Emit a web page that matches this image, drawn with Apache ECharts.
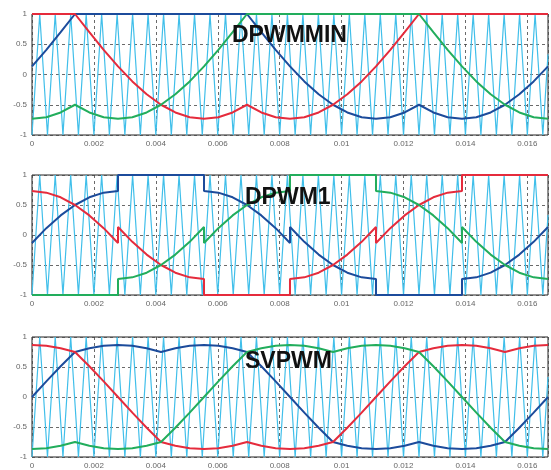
<!DOCTYPE html>
<html>
<head>
<meta charset="utf-8">
<script src="https://cdn.jsdelivr.net/npm/echarts@6/dist/echarts.min.js"></script>
<style>
html,body{margin:0;padding:0;background:#fff;}
#c{width:551px;height:470px;}
</style>
</head>
<body>
<div id="c"></div>
<script>
// ---------- shared data ----------
var xTicks = [0, 0.002, 0.004, 0.006, 0.008, 0.01, 0.012, 0.014, 0.016];
var yTicks = [-1, -0.5, 0, 0.5, 1];
var titles = ['DPWMMIN', 'DPWM1', 'SVPWM'];

// carrier triangle vertices
var carrierT = [0,0.00025,0.0005,0.00075,0.001,0.00125,0.0015,0.00175,0.002,0.00225,0.0025,0.00275,0.003,0.00325,0.0035,0.00375,0.004,0.00425,0.0045,0.00475,0.005,0.00525,0.0055,0.00575,0.006,0.00625,0.0065,0.00675,0.007,0.00725,0.0075,0.00775,0.008,0.00825,0.0085,0.00875,0.009,0.00925,0.0095,0.00975,0.01,0.01025,0.0105,0.01075,0.011,0.01125,0.0115,0.01175,0.012,0.01225,0.0125,0.01275,0.013,0.01325,0.0135,0.01375,0.014,0.01425,0.0145,0.01475,0.015,0.01525,0.0155,0.01575,0.016,0.01625,0.0165,0.016667];
var carrierV = [-1,1,-1,1,-1,1,-1,1,-1,1,-1,1,-1,1,-1,1,-1,1,-1,1,-1,1,-1,1,-1,1,-1,1,-1,1,-1,1,-1,1,-1,1,-1,1,-1,1,-1,1,-1,1,-1,1,-1,1,-1,1,-1,1,-1,1,-1,1,-1,1,-1,1,-1,1,-1,1,-1,1,-1,0.333];

// time samples (s)
var tA = [0,0.000463,0.000926,0.001389,0.001852,0.002315,0.002778,0.003241,0.003704,0.004167,0.004630,0.005093,0.005556,0.006019,0.006481,0.006944,0.007407,0.007870,0.008333,0.008796,0.009259,0.009722,0.010185,0.010648,0.011111,0.011574,0.012037,0.012500,0.012963,0.013426,0.013889,0.014352,0.014815,0.015278,0.015741,0.016204,0.016667];
var tB = [0,0.000463,0.000926,0.001389,0.001852,0.002315,0.002778,
          0.002778,0.003241,0.003704,0.004167,0.004630,0.005093,0.005556,
          0.005556,0.006019,0.006481,0.006944,0.007407,0.007870,0.008333,
          0.008333,0.008796,0.009259,0.009722,0.010185,0.010648,0.011111,
          0.011111,0.011574,0.012037,0.012500,0.012963,0.013426,0.013889,
          0.013889,0.014352,0.014815,0.015278,0.015741,0.016204,0.016667];

// DPWMMIN panel
var minBlue  = [0.134,0.408,0.699,1,1,1,1,1,1,1,1,1,1,1,1,1,0.699,0.408,0.134,-0.114,-0.327,-0.5,-0.628,-0.706,-0.732,-0.706,-0.628,-0.5,-0.628,-0.706,-0.732,-0.706,-0.627,-0.5,-0.327,-0.114,0.134];
var minRed   = [1,1,1,1,0.699,0.408,0.134,-0.114,-0.327,-0.5,-0.628,-0.706,-0.732,-0.706,-0.628,-0.5,-0.628,-0.706,-0.732,-0.706,-0.628,-0.5,-0.327,-0.114,0.134,0.408,0.699,1,1,1,1,1,1,1,1,1,1];
var minGreen = [-0.732,-0.706,-0.628,-0.5,-0.628,-0.706,-0.732,-0.706,-0.628,-0.5,-0.327,-0.114,0.134,0.408,0.699,1,1,1,1,1,1,1,1,1,1,1,1,1,0.699,0.408,0.134,-0.114,-0.327,-0.5,-0.628,-0.706,-0.732];

// DPWM1 panel
var d1Blue  = [-0.134,0.114,0.327,0.5,0.628,0.706,0.732, 1,1,1,1,1,1,1, 0.732,0.706,0.628,0.5,0.327,0.114,-0.134, 0.134,-0.114,-0.327,-0.5,-0.628,-0.706,-0.732, -1,-1,-1,-1,-1,-1,-1, -0.732,-0.706,-0.627,-0.5,-0.327,-0.114,0.134];
var d1Red   = [0.732,0.706,0.628,0.5,0.327,0.114,-0.134, 0.134,-0.114,-0.327,-0.5,-0.628,-0.706,-0.732, -1,-1,-1,-1,-1,-1,-1, -0.732,-0.706,-0.628,-0.5,-0.327,-0.114,0.134, -0.134,0.114,0.327,0.5,0.628,0.706,0.732, 1,1,1,1,1,1,1];
var d1Green = [-1,-1,-1,-1,-1,-1,-1, -0.732,-0.706,-0.628,-0.5,-0.327,-0.114,0.134, -0.134,0.114,0.327,0.5,0.628,0.706,0.732, 1,1,1,1,1,1,1, 0.732,0.706,0.628,0.5,0.327,0.114,-0.134, 0.134,-0.114,-0.327,-0.5,-0.628,-0.706,-0.732];

// SVPWM panel
var svBlue  = [0,0.261,0.513,0.75,0.814,0.853,0.866,0.853,0.814,0.75,0.814,0.853,0.866,0.853,0.814,0.75,0.513,0.261,0,-0.261,-0.513,-0.75,-0.814,-0.853,-0.866,-0.853,-0.814,-0.75,-0.814,-0.853,-0.866,-0.853,-0.814,-0.75,-0.513,-0.261,0];
var svRed   = [0.866,0.853,0.814,0.75,0.513,0.261,0,-0.261,-0.513,-0.75,-0.814,-0.853,-0.866,-0.853,-0.814,-0.75,-0.814,-0.853,-0.866,-0.853,-0.814,-0.75,-0.513,-0.261,0,0.261,0.513,0.75,0.814,0.853,0.866,0.853,0.814,0.75,0.814,0.853,0.866];
var svGreen = [-0.866,-0.853,-0.814,-0.75,-0.814,-0.853,-0.866,-0.853,-0.814,-0.75,-0.513,-0.261,0,0.261,0.513,0.75,0.814,0.853,0.866,0.853,0.814,0.75,0.814,0.853,0.866,0.853,0.814,0.75,0.513,0.261,0,-0.261,-0.513,-0.75,-0.814,-0.853,-0.866];

// ---------- chart ----------
function zip(t, v){ var o=[]; for(var i=0;i<t.length;i++) o.push([t[i], v[i]]); return o; }

var COL = {red:'#e52b3c', green:'#22ad5c', blue:'#1c4b9b', carrier:'#40bfea'};
var grids = [
  {left:32, top:14,  width:516, height:121},
  {left:32, top:175, width:516, height:120},
  {left:32, top:337, width:516, height:121}
];
var panels = [
  {t:tA, r:minRed, g:minGreen, b:minBlue},
  {t:tB, r:d1Red,  g:d1Green,  b:d1Blue},
  {t:tA, r:svRed,  g:svGreen,  b:svBlue}
];
var titleTops = [24, 186, 350];
var titleLefts = [232, 245, 245];

var option = {
  animation:false,
  backgroundColor:'#fff',
  grid: grids.map(function(g){ return Object.assign({show:true, borderColor:'#222', borderWidth:1, backgroundColor:'#fff'}, g); }),
  title: titles.map(function(s,i){ return {text:s, left:titleLefts[i], top:titleTops[i], padding:0,
      textStyle:{fontFamily:'Liberation Sans, Arial, sans-serif', fontSize:23, fontWeight:'bold', color:'#111'}}; }),
  xAxis: grids.map(function(g,i){ return {
    type:'value', gridIndex:i, min:xTicks[0], max:0.016667, interval:xTicks[1]-xTicks[0],
    axisLine:{show:false}, axisTick:{show:false},
    axisLabel:{show:true, showMaxLabel:false, fontSize:8, color:'#666', margin:5,
      fontFamily:'Liberation Sans, Arial, sans-serif',
      formatter:function(v){ return v===0 ? '0' : String(+v.toFixed(3)); }},
    splitLine:{show:true, lineStyle:{color:'#444', width:0.8, type:[3,3]}}
  }; }),
  yAxis: grids.map(function(g,i){ return {
    type:'value', gridIndex:i, min:yTicks[0], max:yTicks[yTicks.length-1], interval:yTicks[1]-yTicks[0],
    axisLine:{show:false}, axisTick:{show:false},
    axisLabel:{fontSize:8, color:'#666', margin:5, fontFamily:'Liberation Sans, Arial, sans-serif',
      formatter:function(v){ return String(v); }},
    splitLine:{show:true, lineStyle:{color:'#444', width:0.8, type:[3,3]}}
  }; }),
  series: []
};

panels.forEach(function(p,i){
  option.series.push({type:'line', xAxisIndex:i, yAxisIndex:i, data:zip(carrierT, carrierV),
    showSymbol:false, lineStyle:{color:COL.carrier, width:1.2}, z:2});
  [['b',COL.blue],['r',COL.red],['g',COL.green]].forEach(function(s){
    option.series.push({type:'line', xAxisIndex:i, yAxisIndex:i, data:zip(p.t, p[s[0]]),
      showSymbol:false, lineStyle:{color:s[1], width:2}, z:3});
  });
});

var chart = echarts.init(document.getElementById('c'), null, {renderer:'canvas'});
chart.setOption(option);
</script>
</body>
</html>
